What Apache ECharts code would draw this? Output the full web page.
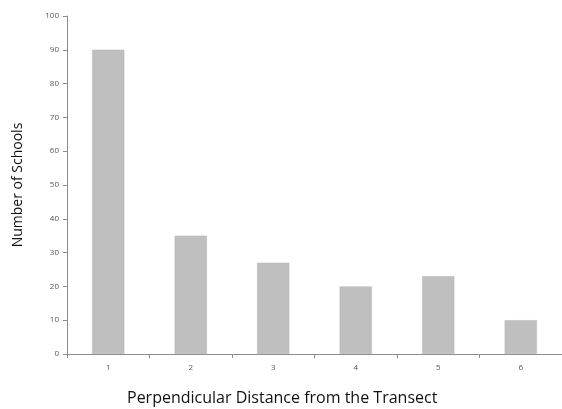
<!DOCTYPE html>
<html>
<head>
<meta charset="utf-8">
<script src="https://cdn.jsdelivr.net/npm/echarts@6/dist/echarts.min.js"></script>
<style>
  html, body { margin: 0; padding: 0; background: #fff; }
  #chart { width: 562px; height: 409px; }
</style>
</head>
<body>
<div id="chart"></div>
<script>
// distance bands and school counts
var categories = ['1', '2', '3', '4', '5', '6'];
var schoolCounts = [90, 35, 27, 20, 23, 10];
var yTicks = [0, 10, 20, 30, 40, 50, 60, 70, 80, 90, 100];

var myChart = echarts.init(document.getElementById('chart'));
var option = {
    animation: false,
    grid: {
        left: 67,
        right: -2,
        top: 16,
        bottom: 55
    },
    xAxis: {
        type: 'category',
        data: categories,
        axisLine: { lineStyle: { color: '#8c8c8c', width: 1 } },
        axisTick: { show: true, length: 4, lineStyle: { color: '#8c8c8c' } },
        axisLabel: { color: '#555', fontSize: 8, margin: 10, fontFamily: 'Open Sans' }
    },
    yAxis: {
        type: 'value',
        min: yTicks[0],
        max: yTicks[yTicks.length - 1],
        interval: 10,
        name: 'Number of Schools',
        nameLocation: 'middle',
        nameGap: 42,
        nameTextStyle: { fontSize: 14, color: '#111', fontFamily: 'Open Sans' },
        axisLine: { show: true, lineStyle: { color: '#8c8c8c', width: 1 } },
        axisTick: { show: true, length: 4, lineStyle: { color: '#8c8c8c' } },
        axisLabel: { color: '#555', fontSize: 8, margin: 8, fontFamily: 'Open Sans' },
        splitLine: { show: false }
    },
    graphic: [{
        type: 'text',
        left: 127,
        top: 390,
        style: {
            text: 'Perpendicular Distance from the Transect',
            fontSize: 16,
            fontFamily: 'Open Sans',
            fill: '#111'
        }
    }],
    series: [{
        name: 'Number of Schools',
        type: 'bar',
        barWidth: '39%',
        data: schoolCounts,
        itemStyle: { color: '#bfbfbf', borderColor: '#b4b4b4', borderWidth: 0.5 }
    }]
};
myChart.setOption(option);
</script>
</body>
</html>
